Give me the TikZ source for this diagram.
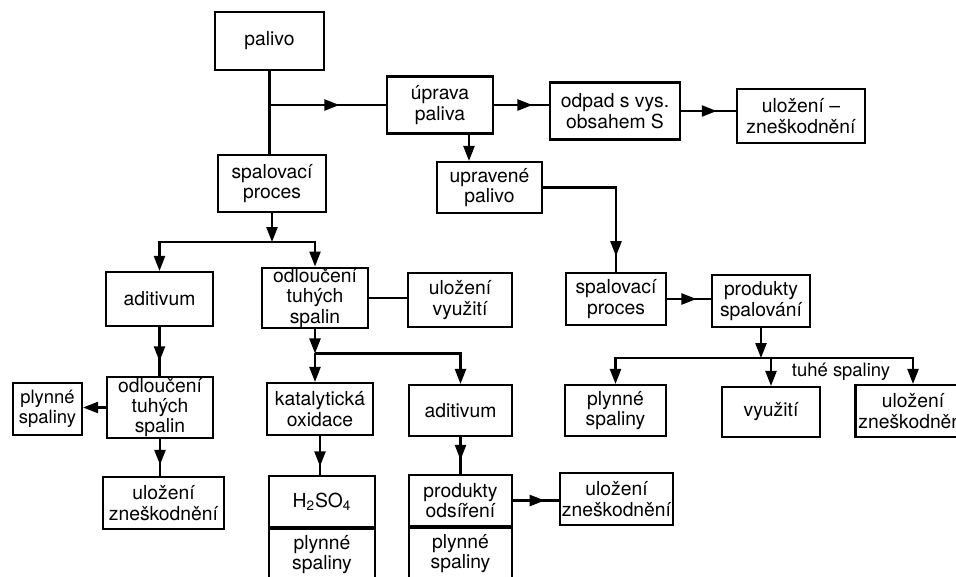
\documentclass[tikz,border=0pt]{standalone}
\usepackage{fontspec}
\setmainfont{TeX Gyre Heros}
\usetikzlibrary{calc}
\usetikzlibrary{arrows.meta}
\usetikzlibrary{decorations.markings}

\begin{document}
\begin{tikzpicture}[x=0.02cm,y=-0.02cm,
    box/.style={draw,line width=1.2pt,align=center,inner sep=0.5pt,font=\fontsize{11}{11.6}\selectfont},
    link/.style={line width=1.3pt},
    arr/.style={link,-{Triangle[length=0.3cm,width=0.22cm]}},
    midarr/.style={link,postaction={decorate},decoration={markings,mark=at position #1 with {\arrow{Triangle[length=0.3cm,width=0.22cm]}}}}]
    \useasboundingbox (0,0) rectangle (956,576);
    \clip (0,0) rectangle (956,576);
    \node[box,minimum width=2.18cm,minimum height=1.16cm] (palivo) at (269.5,41) {palivo};
    \node[box,minimum width=2.12cm,minimum height=1.14cm] (uprava) at (440,105) {úprava\\paliva};
    \node[box,minimum width=2.6cm,minimum height=1.14cm] (odpad) at (615,111) {odpad s vys.\\obsahem S};
    \node[box,minimum width=2.56cm,minimum height=1.08cm] (ulozA) at (801,116) {uložení –\\zneškodnění};
    \node[box,minimum width=2.16cm,minimum height=1.14cm] (spalL) at (272,183.5) {spalovací\\proces};
    \node[box,minimum width=2.1cm,minimum height=1.02cm] (upravene) at (489.5,187.5) {upravené\\palivo};
    \node[box,minimum width=2cm,minimum height=1.04cm] (spalR) at (616,299) {spalovací\\proces};
    \node[box,minimum width=1.96cm,minimum height=1.04cm] (produkty) at (761,301) {produkty\\spalování};
    \node[box,minimum width=2.02cm,minimum height=1.02cm] (plynR) at (615.5,410.5) {plynné\\spaliny};
    \node[box,minimum width=1.96cm,minimum height=1cm] (vyuziti) at (771,412) {využití};
    \node[box,minimum width=2.3cm,minimum height=1.04cm] (ulozR) at (913,411) {uložení\\zneškodnění};
    \node[box,minimum width=2.14cm,minimum height=1.08cm] (aditL) at (159.5,299) {aditivum};
    \node[box,minimum width=2.12cm,minimum height=1.2cm] (odlM) at (315,298) {odloučení\\tuhých\\spalin};
    \node[box,minimum width=2.08cm,minimum height=1.08cm] (ulozV) at (460,300) {uložení\\využití};
    \node[box,minimum width=2.12cm,minimum height=1.04cm] (katal) at (320,409) {katalytická\\oxidace};
    \node[box,minimum width=2.06cm,minimum height=1.02cm] (aditM) at (460.5,410.5) {aditivum};
    \node[box,minimum width=2.12cm,minimum height=1.18cm] (odlL) at (160,407.5) {odloučení\\tuhých\\spalin};
    \node[box,minimum width=1.38cm,minimum height=1.04cm,font=\fontsize{10.5}{11.5}\selectfont] (plynL) at (47.5,409) {plynné\\spaliny};
    \node[box,minimum width=2.42cm,minimum height=1.04cm] (ulozL) at (163.5,503) {uložení\\zneškodnění};
    \node[box,minimum width=2.12cm,minimum height=1.02cm] (kys) at (322,501.5) {H\textsubscript{2}SO\textsubscript{4}};
    \node[box,minimum width=2.12cm,minimum height=1.02cm,anchor=north] (plynK) at (kys.south) {plynné\\spaliny};
    \node[box,minimum width=2.06cm,minimum height=1.02cm] (odsireni) at (460.5,500.5) {produkty\\odsíření};
    \node[box,minimum width=2.06cm,minimum height=1.02cm,anchor=north] (plynO) at (odsireni.south) {plynné\\spaliny};
    \node[box,minimum width=2.26cm,minimum height=1.04cm] (ulozB) at (616.5,499) {uložení\\zneškodnění};
    \node[font=\fontsize{10.5}{11.5}\selectfont] (tuhe) at (841,372) {tuhé spaliny};

    \coordinate (j1) at (palivo.south |- uprava.west);
    \coordinate (k1) at ([xshift=0.58cm]uprava.south);
    \coordinate (j2) at ([yshift=-0.58cm]spalL.south);
    \coordinate (j3) at ([yshift=-0.48cm]odlM.south);
    \coordinate (j4) at ([yshift=-0.6cm]produkty.south);

    \draw[link] (palivo.south) -- (palivo.south |- spalL.north);
    \draw[midarr=0.6] (j1) -- (uprava.west);
    \draw[midarr=0.7] (uprava.east) -- (uprava.east -| odpad.west);
    \draw[midarr=0.65] (odpad.east) -- (odpad.east -| ulozA.west);
    \draw[arr] (k1) -- (k1 |- upravene.north);
    \draw[midarr=0.9] (upravene.east) -| (spalR.north);
    \draw[arr] (spalL.south) -- (j2);
    \draw[arr] (j2) -| (aditL.north);
    \draw[arr] (j2) -| (odlM.north);
    \draw[link] (odlM.east) -- (odlM.east -| ulozV.west);
    \draw[arr] (odlM.south) -- (j3);
    \draw[arr] (j3) -- (j3 |- katal.north);
    \draw[arr] (j3) -| (aditM.north);
    \draw[midarr=0.7] (aditL.south) -- (aditL.south |- odlL.north);
    \draw[arr] (odlL.west) -- (odlL.west -| plynL.east);
    \draw[midarr=0.7] (odlL.south) -- (odlL.south |- ulozL.north);
    \draw[midarr=0.78] (katal.south) -- (katal.south |- kys.north);
    \draw[midarr=0.62] (aditM.south) -- (aditM.south |- odsireni.north);
    \draw[midarr=0.69] (odsireni.east) -- (odsireni.east -| ulozB.west);
    \draw[midarr=0.67] (spalR.east) -- (spalR.east -| produkty.west);
    \draw[arr] (produkty.south) -- (j4);
    \draw[arr] (j4) -| (plynR.north);
    \draw[arr] (j4) -| (vyuziti.north);
    \draw[arr] (j4) -| (ulozR.north);
\end{tikzpicture}
\end{document}
